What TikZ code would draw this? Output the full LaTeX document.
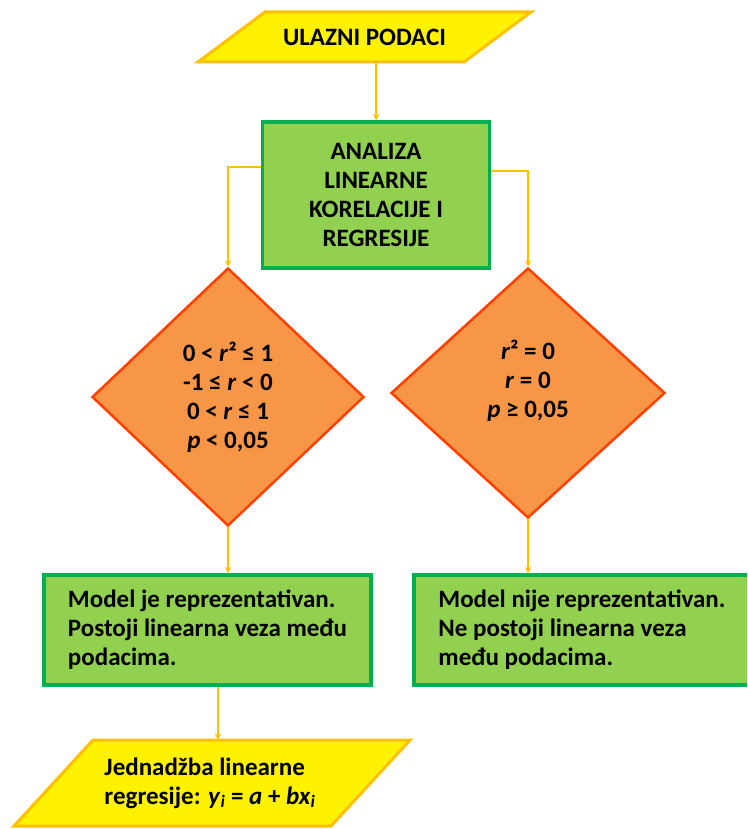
\documentclass[tikz,border=0pt]{standalone}
\usepackage{fontspec}
\setmainfont{Carlito}
\usepackage{tikz}
\usetikzlibrary{shapes.geometric, arrows}
\definecolor{gold}{HTML}{FFC000}
\definecolor{lgreen}{HTML}{92D050}
\definecolor{dgreen}{HTML}{00B050}
\definecolor{orng}{HTML}{F79646}
\definecolor{redorng}{HTML}{FF4000}
\tikzstyle{io} = [draw=gold, fill=yellow, line width=3pt, line join=miter]
\tikzstyle{iotext} = [rectangle, inner sep=0pt, align=left, font=\fontsize{25}{29}\selectfont\bfseries]
\tikzstyle{process} = [rectangle, draw=dgreen, fill=lgreen, line width=3.5pt, align=center, font=\fontsize{25}{29}\selectfont\bfseries]
\tikzstyle{result} = [rectangle, draw=dgreen, fill=lgreen, line width=3.5pt, align=left, font=\fontsize{25}{29}\selectfont\bfseries]
\tikzstyle{decision} = [diamond, draw=redorng, fill=orng, line width=2.5pt, inner sep=0pt, align=center, font=\fontsize{25}{29}\selectfont\bfseries]
\tikzstyle{arrow} = [draw=gold, line width=1.8pt, ->, >=stealth]

\begin{document}
\begin{tikzpicture}[x=1pt, y=-1pt]
    \clip (0,0) rectangle (747,829);
    % input / output shapes
    \draw [io] (198,62) -- (265,12) -- (531,12) -- (464,62) -- cycle;
    \draw [io] (14,826) -- (93,740) -- (410,740) -- (331,826) -- cycle;
    \node (in) [iotext, minimum width=266pt, minimum height=50pt] at (364.5,37) {ULAZNI PODACI};
    \node (ana) [process, minimum width=227pt, minimum height=146pt] at (376,195) {ANALIZA\\LINEARNE\\KORELACIJE I\\REGRESIJE};
    \draw [arrow] (ana.north |- in.south) -- (ana.north);
    \node (ldia) [decision, minimum width=272pt, minimum height=258pt] at (228,397) {0 < \textit{r}² ≤ 1\\-1 ≤ \textit{r} < 0\\0 < \textit{r} ≤ 1\\\textit{p} < 0,05};
    \node (rdia) [decision, minimum width=274pt, minimum height=250pt] at (528,393) {\textit{r}² = 0\\\textit{r} = 0\\\textit{p} ≥ 0,05\\ \mbox{}};
    \draw [arrow] ([yshift=28pt]ana.west) -| (ldia.north);
    \draw [arrow] ([yshift=24pt]ana.east) -| (rdia.north);
    \node (lbox) [result, minimum width=327pt, minimum height=110pt] at (207.5,630) {Model je reprezentativan.\\Postoji linearna veza među\\podacima.};
    \node (rbox) [result, minimum width=336pt, minimum height=110pt] at (582,630) {Model nije reprezentativan.\\Ne postoji linearna veza\\među podacima.};
    \draw [arrow] (ldia.south) -- (ldia.south |- lbox.north);
    \draw [arrow] (rdia.south) -- (rdia.south |- rbox.north);
    \node (out) [iotext, minimum width=317pt, minimum height=86pt] at (210,783) {Jednadžba linearne\\regresije: \textit{y}\textsubscript{\textit{i}} = \textit{a} + \textit{bx}\textsubscript{\textit{i}}};
    \draw [arrow] ([xshift=10.5pt]lbox.south) -- ([xshift=10.5pt]lbox.south |- out.north);
\end{tikzpicture}
\end{document}
